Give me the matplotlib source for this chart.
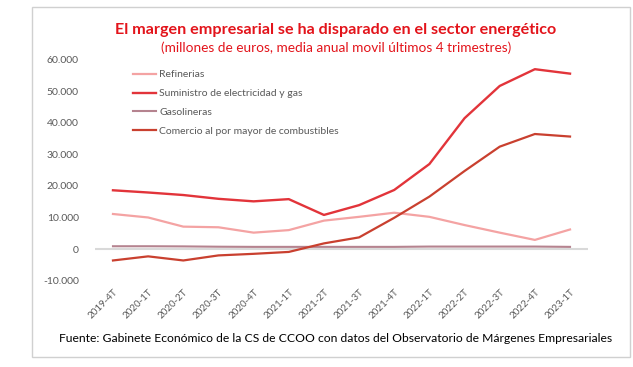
import matplotlib
matplotlib.use("Agg")
import matplotlib.pyplot as plt
from matplotlib.patches import Rectangle
from matplotlib.ticker import FuncFormatter

plt.rcParams['font.family'] = ['Lato', 'DejaVu Sans']

quarters = ["2019-4T", "2020-1T", "2020-2T", "2020-3T", "2020-4T", "2021-1T", "2021-2T",
            "2021-3T", "2021-4T", "2022-1T", "2022-2T", "2022-3T", "2022-4T", "2023-1T"]
refinerias = [11100, 10000, 7100, 6900, 5200, 6000, 9000, 10200, 11500, 10200, 7600, 5200, 2900, 6200]
suministro = [18600, 17900, 17100, 15900, 15100, 15800, 10800, 13900, 18700, 26900, 41400, 51600, 56900, 55500]
gasolineras = [900, 900, 850, 750, 700, 700, 700, 700, 700, 800, 800, 800, 800, 700]
comercio = [-3600, -2300, -3600, -2000, -1500, -900, 1800, 3700, 9900, 16600, 24700, 32400, 36400, 35600]

series_names = ["Refinerias", "Suministro de electricidad y gas", "Gasolineras",
                "Comercio al por mayor de combustibles"]
colors = ["#F4A3A3", "#E2343A", "#B5838F", "#C9402F"]
widths = [1.6, 1.7, 1.5, 1.6]

W, H = 633, 367
fig = plt.figure(figsize=(W / 100, H / 100), dpi=100)
fig.patch.set_facecolor("white")

# outer border
fig.patches.append(Rectangle((32 / W, 1 - 357 / H), (630 - 32) / W, (357 - 7) / H,
                             transform=fig.transFigure, fill=False, edgecolor="#D0D0D0", lw=1.0))

left, right = 95.4 / W, 587.6 / W
bottom, top = 1 - 280.7 / H, 1 - 59.4 / H
ax = fig.add_axes([left, bottom, right - left, top - bottom])
ax.set_facecolor("none")

x = list(range(len(quarters)))
ax.axhline(0, color="#D9D9D9", lw=1.5, zorder=1)
for vals, name, c, lw in zip([refinerias, suministro, gasolineras, comercio], series_names, colors, widths):
    ax.plot(x, vals, color=c, lw=lw, label=name, zorder=3, solid_joinstyle="round")

ax.set_xlim(-0.5, len(quarters) - 0.5)
ax.set_ylim(-10000, 60000)
ax.set_yticks(range(-10000, 60001, 10000))
ax.yaxis.set_major_formatter(FuncFormatter(lambda v, p: f"{int(v):,}".replace(",", ".")))
ax.set_xticks(x)
ax.set_xticklabels(quarters, rotation=45, ha="right", va="top", rotation_mode="anchor")
ax.tick_params(axis="y", length=0, colors="#595959", labelsize=7.5, pad=12)
ax.tick_params(axis="x", length=0, colors="#595959", labelsize=7, pad=5)
for s in ax.spines.values():
    s.set_visible(False)

leg = ax.legend(loc="upper left", bbox_to_anchor=(133 / W, 1 - 70 / H), bbox_transform=fig.transFigure,
                frameon=False, fontsize=7.5, handlelength=2.2, handletextpad=0.3, labelspacing=0.92,
                borderaxespad=0, borderpad=0)
for t in leg.get_texts():
    t.set_color("#595959")

fig.text(336 / W, 1 - 30 / H, "El margen empresarial se ha disparado en el sector energético",
         ha="center", va="center", color="#E3141B", fontsize=11.6, fontweight="bold")
fig.text(336 / W, 1 - 47.5 / H, "(millones de euros, media anual movil últimos 4 trimestres)",
         ha="center", va="center", color="#E3141B", fontsize=9.8)
fig.text(336 / W, 1 - 339 / H,
         "Fuente: Gabinete Económico de la CS de CCOO con datos del Observatorio de Márgenes Empresariales",
         ha="center", va="center", color="#000000", fontsize=8.7)

fig.savefig("out.png", dpi=100, facecolor="white")
